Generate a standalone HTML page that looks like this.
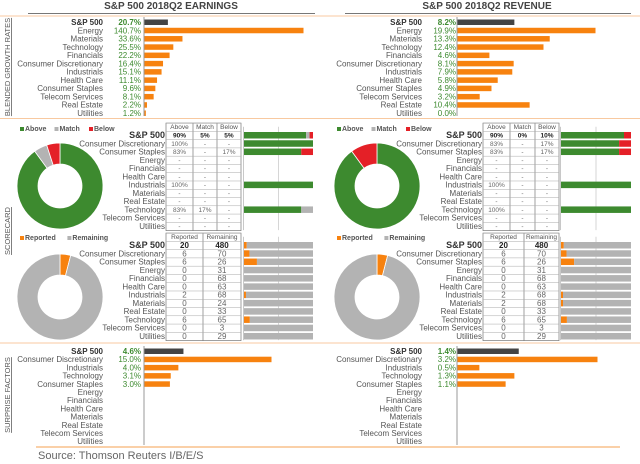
<!DOCTYPE html>
<html><head><meta charset="utf-8">
<style>
html,body{margin:0;padding:0;background:#fff;}
svg{display:block;font-family:"Liberation Sans",sans-serif;}
</style></head>
<body>
<svg id="c" width="640" height="464" viewBox="0 0 640 464" xmlns="http://www.w3.org/2000/svg">
  <text x="171" y="9" text-anchor="middle" font-size="10" font-weight="bold" fill="#444">S&amp;P 500 2018Q2 EARNINGS</text>
  <text x="487" y="9" text-anchor="middle" font-size="10" font-weight="bold" fill="#444">S&amp;P 500 2018Q2 REVENUE</text>
  <line x1="28" y1="13.5" x2="315" y2="13.5" stroke="#777" stroke-width="1"/>
  <line x1="345" y1="13.5" x2="631" y2="13.5" stroke="#777" stroke-width="1"/>
  <line x1="0" y1="16" x2="640" y2="16" stroke="#f8c9a0" stroke-width="1"/>
  <line x1="0" y1="118.5" x2="640" y2="118.5" stroke="#f8c9a0" stroke-width="1"/>
  <line x1="0" y1="343" x2="640" y2="343" stroke="#f8c9a0" stroke-width="1"/>
  <line x1="36" y1="447" x2="620" y2="447" stroke="#f5a050" stroke-width="1"/>
  <text transform="translate(10,67) rotate(-90)" text-anchor="middle" font-size="7.5" fill="#555" text-decoration="underline">BLENDED GROWTH RATES</text>
  <text transform="translate(10,231) rotate(-90)" text-anchor="middle" font-size="7.5" fill="#555" text-decoration="underline">SCORECARD</text>
  <text transform="translate(10,395) rotate(-90)" text-anchor="middle" font-size="7.5" fill="#555" text-decoration="underline">SURPRISE FACTORS</text>
  <text x="38" y="459" font-size="11" fill="#666">Source: Thomson Reuters I/B/E/S</text>
  <g id="g"></g>
</svg>
<script>
// ---------- data ----------
const growthCats = ["S&P 500","Energy","Materials","Technology","Financials","Consumer Discretionary","Industrials","Health Care","Consumer Staples","Telecom Services","Real Estate","Utilities"];
const earnGrowth = [20.7,140.7,33.6,25.5,22.2,16.4,15.1,11.1,9.6,8.1,2.2,1.2];
const revCats = ["S&P 500","Energy","Materials","Technology","Financials","Consumer Discretionary","Industrials","Health Care","Consumer Staples","Telecom Services","Real Estate","Utilities"];
const revGrowth = [8.2,19.9,13.3,12.4,4.6,8.1,7.9,5.8,4.9,3.2,10.4,0.0];

const scoreCats = ["S&P 500","Consumer Discretionary","Consumer Staples","Energy","Financials","Health Care","Industrials","Materials","Real Estate","Technology","Telecom Services","Utilities"];
const earnAbove = [90,100,83,null,null,null,100,null,null,83,null,null];
const earnMatch = [5,null,null,null,null,null,null,null,null,17,null,null];
const earnBelow = [5,null,17,null,null,null,null,null,null,null,null,null];
const revAbove = [90,83,83,null,null,null,100,null,null,100,null,null];
const revMatch = [0,null,null,null,null,null,null,null,null,null,null,null];
const revBelow = [10,17,17,null,null,null,null,null,null,null,null,null];

const earnReported = [20,6,6,0,0,0,2,0,0,6,0,0];
const earnRemaining = [480,70,26,31,68,63,68,24,33,65,3,29];
const revReported = [20,6,6,0,0,0,2,2,0,6,0,0];
const revRemaining = [480,70,26,31,68,63,68,68,33,65,3,29];

const surpriseCats = ["S&P 500","Consumer Discretionary","Industrials","Technology","Consumer Staples","Energy","Financials","Health Care","Materials","Real Estate","Telecom Services","Utilities"];
const earnSurprise = [4.6,15.0,4.0,3.1,3.0,null,null,null,null,null,null,null];
const revSurprise = [1.4,3.2,0.5,1.3,1.1,null,null,null,null,null,null,null];

// ---------- drawing ----------
const NS="http://www.w3.org/2000/svg";
const G=document.getElementById('g');
const ORANGE="#f7820f", DARK="#444", GREEN="#3d8a2f", RED="#e42027", GRAY="#b3b3b3";
function el(tag,at,parent){const e=document.createElementNS(NS,tag);for(const k in at)e.setAttribute(k,at[k]);(parent||G).appendChild(e);return e;}
function txt(x,y,s,at){const e=el('text',Object.assign({x:x,y:y,'font-size':8,fill:'#555'},at||{}));e.textContent=s;return e;}

function barPanel(cats,vals,y0,step,labelX,valX,axisX,maxVal,maxW,prefix,axisY1,fmtAll){
  const xs=v=>v/maxVal*maxW;
  const ax=el('line',{x1:axisX+0.5,y1:y0-5,x2:axisX+0.5,y2:axisY1,stroke:'#999','stroke-width':1});
  
  
  cats.forEach((c,i)=>{
    const y=y0+i*step;
    const bold=i===0;
    const l=txt(labelX,y+3,c,{'text-anchor':'end','font-weight':bold?'bold':'normal',fill:bold?'#333':'#555'});
    
    
    const v=vals[i];
    if(v===null) return;
    const t=txt(valX,y+3,v.toFixed(1)+'%',{'text-anchor':'end',fill:GREEN,'font-weight':bold?'bold':'normal'});
    
    
    const w=Math.max(xs(v),0);
    const b=el('rect',{x:axisX+1,y:y-2.5,width:w,height:5.5,fill:bold?DARK:ORANGE});
    
    
  });
}
barPanel(growthCats,earnGrowth,22,8.27,103,141,143.5,140.7,159,'earnings-growth',116);
barPanel(revCats,revGrowth,22,8.27,422,456,456.5,19.9,138,'revenue-growth',116);
barPanel(surpriseCats,earnSurprise,351,8.2,103,141,143.5,15.0,127,'earnings-surprise',445);
barPanel(surpriseCats,revSurprise,351,8.2,422,456,456.5,3.2,140,'revenue-surprise',445);

function donut(cx,cy,vals,cols,prefix){
  const R=43,r=22,tot=vals.reduce((a,b)=>a+b,0);let a0=0;
  vals.forEach((v,i)=>{
    if(!v) return;
    const a1=a0+v/tot*2*Math.PI;
    const p=(a,rad)=>[cx+rad*Math.sin(a),cy-rad*Math.cos(a)];
    const large=(a1-a0)>Math.PI?1:0;
    const [x1,y1]=p(a0,R),[x2,y2]=p(a1,R),[x3,y3]=p(a1,r),[x4,y4]=p(a0,r);
    const s=el('path',{d:`M${x1},${y1}A${R},${R} 0 ${large} 1 ${x2},${y2}L${x3},${y3}A${r},${r} 0 ${large} 0 ${x4},${y4}Z`,fill:cols[i],stroke:'#fff','stroke-width':0.8});
    
    
    a0=a1;
  });
}
function legend(x,y,items,prefix){
  let cx=x;
  items.forEach(([lab,col])=>{
    const r=el('rect',{x:cx,y:y-4,width:4,height:4,fill:col});
    
    
    const t=txt(cx+5,y,lab,{'font-size':7,'font-weight':'bold',fill:'#555'});
    
    
    cx+=5+lab.length*4.3+8;
  });
}
function table(colX,headers,rowsVals,y0,step,labelX,cats,prefix,fs){
  const top=y0-step*1.5+0.5, h=step*(cats.length+1);
  const bg=el('rect',{x:colX[0],y:top,width:colX[colX.length-1]-colX[0],height:h,fill:'#fff',stroke:'#777','stroke-width':0.7});
  
  
  colX.slice(1,-1).forEach(x=>{el('line',{x1:x,y1:top,x2:x,y2:top+h,stroke:'#777','stroke-width':0.7});});
  for(let i=0;i<=cats.length;i++){const yy=top+i*step;el('line',{x1:colX[0],y1:yy,x2:colX[colX.length-1],y2:yy,stroke:'#aaa','stroke-width':0.5});}
  headers.forEach((hd,j)=>{
    const t=txt((colX[j]+colX[j+1])/2,y0-step+2.5,hd,{'text-anchor':'middle','font-size':6.5,fill:'#555'});
    
    
  });
  cats.forEach((c,i)=>{
    const y=y0+i*step;
    const l=txt(labelX,y+3,c,{'text-anchor':'end','font-size':i===0?9:8,'font-weight':i===0?'bold':'normal',fill:i===0?'#333':'#555'});
    
    
    rowsVals.forEach((arr,j)=>{
      const t=txt((colX[j]+colX[j+1])/2,y+(fs>7?3:2.5),arr[i],{'text-anchor':'middle','font-size':fs,fill:i===0?'#222':'#666','font-weight':i===0?'bold':'normal'});
      
      
    });
  });
}
const pct=a=>a.map(v=>v===null?'-':v+'%');

function stackBars(x0,w,y0,step,n,series,cols,prefix){
  el('line',{x1:x0+w/2,y1:y0-step,x2:x0+w/2,y2:y0+step*(n-0.5),stroke:'#ccc','stroke-width':0.8});
  el('line',{x1:x0-0.5,y1:y0-step,x2:x0-0.5,y2:y0+step*(n-0.5),stroke:'#bbb','stroke-width':0.8});
  for(let i=0;i<n;i++){
    const y=y0+i*step;
    const vs=series.map(s=>s[i]||0);
    const tot=vs.reduce((a,b)=>a+b,0);
    if(!tot) continue;
    let cx=x0;
    vs.forEach((v,j)=>{
      const ww=v/tot*w;
      if(ww<=0) return;
      const r=el('rect',{x:cx,y:y-3,width:ww,height:6.5,fill:cols[j]});
      
      
      cx+=ww;
    });
  }
}

// Scorecard (beat/miss)
function scorecard(off,above,match,below,tcols,prefix){
  const sum=a=>a.reduce((s,v)=>s+(v||0),0);
  legend(20+off,131,[["Above",GREEN],["Match",GRAY],["Below",RED]],prefix+'-legend');
  donut(60+off,186,[above[0],match[0],below[0]],[GREEN,GRAY,RED],prefix+'-donut');
  table(tcols,["Above","Match","Below"],[pct(above),pct(match),pct(below)],135,8.27,tcols[0]-1,scoreCats,prefix,6.5);
  stackBars(off===0?244:561,off===0?69:70,135,8.27,scoreCats.length,[above,match,below],[GREEN,GRAY,RED],prefix+'-bar');
}
scorecard(0,earnAbove,earnMatch,earnBelow,[166,193,217,241],'earnings-scorecard');
scorecard(317,revAbove,revMatch,revBelow,[483,510,535,559],'revenue-scorecard');

function reported(off,rep,rem,tcols,prefix){
  legend(20+off,240,[["Reported",ORANGE],["Remaining",GRAY]],prefix+'-legend');
  donut(60+off,297,[rep[0],rem[0]],[ORANGE,GRAY],prefix+'-donut');
  table(tcols,["Reported","Remaining"],[rep.map(String),rem.map(String)],245,8.27,tcols[0]-1,scoreCats,prefix,8);
  stackBars(off===0?244:561,off===0?69:70,245,8.27,scoreCats.length,[rep,rem],[ORANGE,GRAY],prefix+'-bar');
}
reported(0,earnReported,earnRemaining,[166,203,241],'earnings-reported');
reported(317,revReported,revRemaining,[483,524,559],'revenue-reported');
</script>
</body></html>
